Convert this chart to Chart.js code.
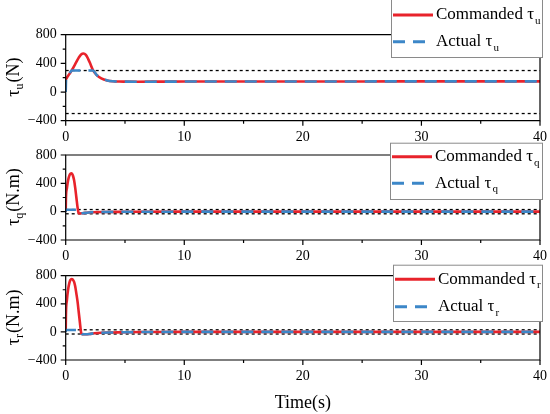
<!DOCTYPE html>
<html>
<head>
<meta charset="utf-8">
<script src="https://cdn.jsdelivr.net/npm/chart.js@4.4.1/dist/chart.umd.min.js"></script>
<style>
  html, body { margin: 0; padding: 0; background: #fff; }
  #wrap { position: relative; width: 550px; height: 414px; overflow: hidden; }
  canvas { position: absolute; left: 0; }
</style>
</head>
<body>
<div id="wrap">
  <canvas id="c1" width="550" height="150" style="top:0px"></canvas>
  <canvas id="c2" width="550" height="130" style="top:140px"></canvas>
  <canvas id="c3" width="550" height="154" style="top:260px"></canvas>
</div>
<script>
// ---------------- data ----------------
const xTickLabels = ['0', '10', '20', '30', '40'];
const yTickLabels = ['\u2212400', '0', '400', '800'];
const legendNames = ['Commanded \u03c4', 'Actual \u03c4'];
const xTitle = 'Time(s)';

// Panel 1: tau_u (N)
const timeU = [0, 0.03, 0.1, 0.3, 0.5, 0.8, 1.1, 1.3, 1.5, 1.7, 1.9, 2.1, 2.3, 2.6, 3.0, 3.5, 4.0, 4.5, 5, 6, 8, 10, 15, 20, 25, 30, 35, 40];
const cmdU  = [174, 180, 200, 250, 300, 390, 480, 525, 538, 518, 460, 385, 305, 240, 192, 162, 150, 146, 145, 144, 145, 146, 147, 148, 148, 149, 149, 149];
const actU  = [0, 170, 200, 250, 300, 300, 300, 300, 300, 300, 300, 300, 300, 240, 192, 162, 150, 146, 145, 144, 145, 146, 147, 148, 148, 149, 149, 149];
const limitU = [300, -300];

// Panel 2: tau_q (N.m)
const timeQ = [0, 0.02, 0.1, 0.2, 0.3, 0.4, 0.5, 0.6, 0.7, 0.8, 0.9, 1.0, 1.08, 1.15, 1.4, 1.8, 2.2, 3, 5, 10, 20, 30, 40];
const cmdQ  = [0, 190, 330, 440, 505, 535, 540, 515, 450, 340, 200, 60, -15, -25, -22, -15, -8, -4, -2, 0, 0, 0, 0];
const actQ  = [0, 28, 28, 28, 28, 28, 28, 28, 28, 28, 28, 28, -15, -25, -22, -15, -8, -4, -2, 0, 0, 0, 0];
const limitQ = [30, -30];

// Panel 3: tau_r (N.m)
const timeR = [0, 0.02, 0.1, 0.2, 0.3, 0.4, 0.5, 0.6, 0.7, 0.8, 0.9, 1.0, 1.1, 1.2, 1.3, 1.4, 1.6, 2.0, 2.4, 3, 4, 5, 7, 10, 20, 30, 40];
const cmdR  = [0, 250, 450, 600, 690, 740, 752, 745, 715, 650, 545, 430, 280, 130, -10, -32, -33, -30, -20, -12, -8, -4, -2, 0, 0, 0, 0];
const actR  = [0, 28, 28, 28, 28, 28, 28, 28, 28, 28, 28, 28, 28, 28, -10, -32, -33, -30, -20, -12, -8, -4, -2, 0, 0, 0, 0];
const limitR = [30, -30];

// --------------- helpers ---------------
const RED = '#e8232b';
const BLUE = '#3c87c8';
const FONT = "'Liberation Serif', 'Times New Roman', serif";

function pts(t, v) { return t.map((tt, i) => ({ x: tt, y: v[i] })); }
function hline(v) { return [{ x: 0, y: v }, { x: 40, y: v }]; }

const framePlugin = {
  id: 'frame',
  afterDatasetsDraw(chart, args, o) {
    const ctx = chart.ctx, a = chart.chartArea, xs = chart.scales.x, ys = chart.scales.y;
    ctx.save();
    ctx.strokeStyle = '#000';
    ctx.lineWidth = 1.2;
    ctx.beginPath();
    ctx.rect(a.left, a.top, a.right - a.left, a.bottom - a.top);
    ctx.stroke();
    ctx.beginPath();
    xs.ticks.forEach(t => {
      const px = xs.getPixelForValue(t.value);
      const len = (t.value % 10 === 0) ? 5 : 3;
      ctx.moveTo(px, a.bottom); ctx.lineTo(px, a.bottom + len);
    });
    ys.ticks.forEach(t => {
      const py = ys.getPixelForValue(t.value);
      const len = (t.value % 400 === 0) ? 5 : 3;
      ctx.moveTo(a.left - len, py); ctx.lineTo(a.left, py);
    });
    ctx.stroke();

    // legend
    const L = o.legend;
    ctx.fillStyle = '#fff';
    ctx.fillRect(L.x, L.y, L.w, L.h);
    ctx.strokeStyle = '#8a8a8a';
    ctx.lineWidth = 1;
    ctx.strokeRect(L.x + 0.5, L.y + 0.5, L.w, L.h);
    const ds = chart.data.datasets;
    [0, 1].forEach((di, row) => {
      const d = ds[di];
      const ry = L.rows[row];
      ctx.beginPath();
      ctx.strokeStyle = d.borderColor;
      ctx.lineWidth = 3;
      ctx.setLineDash(d.borderDash || []);
      ctx.moveTo(L.x + 2, ry); ctx.lineTo(L.x + 42, ry);
      ctx.stroke();
      ctx.setLineDash([]);
      ctx.fillStyle = '#000';
      ctx.textBaseline = 'middle';
      ctx.textAlign = 'left';
      ctx.font = '17px ' + FONT;
      const name = legendNames[row];
      const tx = L.x + 45;
      ctx.fillText(name, tx, ry);
      const w = ctx.measureText(name).width;
      ctx.font = '11px ' + FONT;
      ctx.fillText(o.sub, tx + w + 1, ry + 6);
    });

    // y title (rotated, with subscript)
    ctx.save();
    const cy = (a.top + a.bottom) / 2;
    ctx.translate(14, cy);
    ctx.rotate(-Math.PI / 2);
    ctx.fillStyle = '#000';
    ctx.textBaseline = 'middle';
    ctx.textAlign = 'left';
    ctx.font = '18px ' + FONT;
    const w1 = ctx.measureText('\u03c4').width;
    const w3 = ctx.measureText(o.unit).width;
    ctx.font = '12px ' + FONT;
    const w2 = ctx.measureText(o.sub).width;
    let x0 = -(w1 + w2 + w3) / 2;
    ctx.font = '18px ' + FONT;
    ctx.fillText('\u03c4', x0, 0);
    ctx.font = '12px ' + FONT;
    ctx.fillText(o.sub, x0 + w1, 6);
    ctx.font = '18px ' + FONT;
    ctx.fillText(o.unit, x0 + w1 + w2 + 1, 0);
    ctx.restore();

    ctx.restore();
  }
};

function makePanel(id, t, cmd, act, lim, sub, unit, padTop, axisH, legend, showTitle) {
  const ctx = document.getElementById(id).getContext('2d');
  return new Chart(ctx, {
    type: 'line',
    data: {
      datasets: [
        { label: 'Commanded', data: pts(t, cmd), borderColor: RED, borderWidth: 2.6, pointRadius: 0,
          cubicInterpolationMode: 'monotone', order: 1 },
        { label: 'Actual', data: pts(t, act), borderColor: BLUE, borderWidth: 2.6, borderDash: [12, 8], pointRadius: 0,
          cubicInterpolationMode: 'monotone', order: 0 },
        { label: 'upper', data: hline(lim[0]), borderColor: '#000', borderWidth: 1.3, borderDash: [3, 3], pointRadius: 0, order: 2 },
        { label: 'lower', data: hline(lim[1]), borderColor: '#000', borderWidth: 1.3, borderDash: [3, 3], pointRadius: 0, order: 2 }
      ]
    },
    options: {
      responsive: false,
      animation: false,
      devicePixelRatio: 1,
      layout: { padding: { top: padTop, right: 9, left: 0, bottom: 0 } },
      plugins: {
        legend: { display: false },
        tooltip: { enabled: false },
        frame: { legend: legend, sub: sub, unit: unit }
      },
      scales: {
        x: {
          type: 'linear', min: 0, max: 40,
          grid: { drawOnChartArea: false, drawTicks: true, tickLength: 5, tickColor: 'transparent' },
          border: { display: false },
          ticks: {
            stepSize: 5, autoSkip: false, maxRotation: 0, padding: 3, color: '#000',
            font: { family: FONT, size: 14 },
            callback: v => (v % 10 === 0 ? xTickLabels[v / 10] : '')
          },
          title: { display: showTitle, text: xTitle, color: '#000', font: { family: FONT, size: 18 }, padding: { top: 0, bottom: 0 } },
          afterFit: s => { s.height = axisH; }
        },
        y: {
          min: -400, max: 800,
          grid: { drawOnChartArea: false, drawTicks: true, tickLength: 5, tickColor: 'transparent' },
          border: { display: false },
          ticks: {
            stepSize: 200, autoSkip: false, padding: 4, color: '#000',
            font: { family: FONT, size: 14 },
            callback: v => (v % 400 === 0 ? yTickLabels[(v + 400) / 400] : '')
          },
          afterFit: s => { s.width = 65.7; }
        }
      }
    },
    plugins: [framePlugin]
  });
}

makePanel('c1', timeU, cmdU, actU, limitU, 'u', '(N)', 34.7, 29.3,
  { x: 391, y: -1, w: 151, h: 58, rows: [15, 41.7] }, false);
makePanel('c2', timeQ, cmdQ, actQ, limitQ, 'q', '(N.m)', 15, 30,
  { x: 390, y: 2.7, w: 152, h: 56.3, rows: [16.7, 43.3] }, false);
makePanel('c3', timeR, cmdR, actR, limitR, 'r', '(N.m)', 15.7, 54,
  { x: 393, y: 4.7, w: 149, h: 56.3, rows: [19.3, 46.7] }, true);
</script>
</body>
</html>
